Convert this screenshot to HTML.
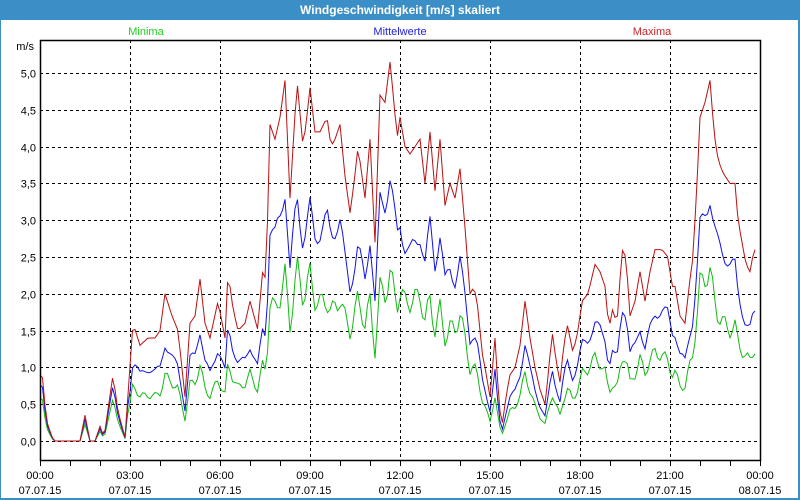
<!DOCTYPE html>
<html><head><meta charset="utf-8"><style>
body{margin:0;width:800px;height:500px;overflow:hidden;background:#3c8fc6;font-family:"Liberation Sans",sans-serif}
</style></head><body>
<svg width="800" height="500" xmlns="http://www.w3.org/2000/svg" style="position:absolute;left:0;top:0">
<rect x="0" y="0" width="800" height="500" fill="#3c8fc6"/>
<rect x="1" y="20" width="797" height="478" fill="#fff"/>
<text x="400" y="14" fill="#fff" font-size="12" font-weight="bold" text-anchor="middle" font-family="Liberation Sans, sans-serif">Windgeschwindigkeit [m/s] skaliert</text>
<g font-size="11" font-family="Liberation Sans, sans-serif" text-anchor="middle">
<text x="146" y="35" fill="#22cc22">Minima</text>
<text x="400" y="35" fill="#2222dd">Mittelwerte</text>
<text x="652" y="35" fill="#cc2222">Maxima</text>
</g>
<g id="grid" stroke="#000" stroke-width="1" stroke-dasharray="3,3"></g>
<g id="ticks" stroke="#000" stroke-width="1"></g>
<g id="lbl" font-size="11" font-family="Liberation Sans, sans-serif" fill="#000"></g>
<g id="series" fill="none" stroke-width="1"></g>
<rect x="40.5" y="40.5" width="720" height="420" fill="none" stroke="#000" stroke-width="1.5"/>
<text x="34" y="50" font-size="11" text-anchor="end" font-family="Liberation Sans, sans-serif">m/s</text>
</svg>
<script>
var NS="http://www.w3.org/2000/svg";
function el(p,t,a,txt){var e=document.createElementNS(NS,t);for(var k in a)e.setAttribute(k,a[k]);if(txt!=null)e.textContent=txt;document.getElementById(p).appendChild(e);}
function Y(v){return 441-v*73.6;}
for(var i=0;i<=10;i++){var y=Math.round(Y(i*0.5))+0.5;el("grid","line",{x1:40,x2:760,y1:y,y2:y});
el("lbl","text",{x:36,y:y+4,"text-anchor":"end"},(i*0.5).toFixed(1).replace(".",","));}
for(var h=3;h<24;h+=3){var x=40+h*30+0.5;el("grid","line",{x1:x,x2:x,y1:40,y2:460});}
for(var h=0;h<=24;h++){var x=40+h*30+0.5;el("ticks","line",{x1:x,x2:x,y1:460,y2:466});}
for(var h=0;h<=24;h+=3){var x=40+h*30;var t=(h==24?"00":("0"+h).slice(-2))+":00";
el("lbl","text",{x:x,y:479,"text-anchor":"middle"},t);el("lbl","text",{x:x,y:494,"text-anchor":"middle"},h==24?"08.07.15":"07.07.15");}
var K=[[40,.9],[43,.85],[46,.3],[52,.05],[55,0],[80,0],[85,.35],[90,0],[95,0],[100,.2],[104,.05],[113,.9],[118,.4],[125,.05],[133,1.6],[140,1.3],[148,1.4],[155,1.4],[160,1.5],[165,2.0],[172,1.7],[178,1.5],[185,.6],[190,1.6],[195,1.7],[200,2.2],[205,1.6],[210,1.4],[218,1.9],[225,1.4],[228,2.3],[233,1.8],[238,1.5],[245,1.6],[250,1.9],[258,1.5],[262,2.3],[266,2.2],[270,4.3],[275,4.1],[280,4.4],[285,4.9],[290,3.3],[297,4.9],[303,4.0],[306,4.3],[310,4.8],[315,4.2],[320,4.2],[327,4.4],[331,4.0],[335,4.1],[340,4.3],[345,3.6],[350,3.1],[354,3.5],[358,4.0],[365,3.3],[370,4.1],[375,2.7],[380,4.7],[385,4.6],[390,5.15],[394,4.6],[397,4.1],[400,4.4],[405,4.0],[410,3.9],[415,4.0],[420,4.1],[425,3.5],[430,4.2],[435,3.4],[440,4.1],[445,3.2],[450,3.5],[455,3.3],[460,3.7],[465,2.9],[470,2.0],[474,2.1],[478,1.8],[482,1.2],[485,1.0],[490,.6],[495,1.4],[499,.5],[502,.2],[506,.6],[510,.9],[515,1.0],[520,1.3],[525,1.9],[530,1.4],[535,1.0],[540,.7],[545,.5],[549,1.0],[552,1.5],[556,1.1],[560,.8],[563,1.2],[567,1.6],[573,1.2],[578,1.5],[582,1.9],[588,2.0],[595,2.4],[600,2.3],[605,2.1],[609,1.5],[612,1.8],[617,1.6],[622,2.6],[626,2.5],[630,1.7],[635,1.9],[640,2.3],[645,1.9],[650,2.3],[655,2.6],[662,2.6],[668,2.5],[672,2.1],[675,2.1],[680,1.7],[685,1.6],[690,2.2],[693,2.5],[697,3.5],[700,4.4],[705,4.6],[710,4.9],[714,4.2],[717,3.9],[721,3.7],[725,3.6],[730,3.5],[735,3.5],[738,3.0],[742,2.7],[746,2.4],[750,2.3],[754,2.6],[757,2.6]];
function v(x){for(var i=0;i<K.length-1;i++){if(x<=K[i+1][0]){var a=K[i],b=K[i+1];return a[1]+(b[1]-a[1])*(x-a[0])/(b[0]-a[0]);}}return K[K.length-1][1];}
var pm=[],pa=[],pn=[];
for(var x=40;x<=757;x+=2.5){var m=v(x);
var a=m*(0.68+0.03*Math.sin(x*0.37)+0.02*Math.sin(x*0.13+2));
var n=m*(0.46+0.035*Math.sin(x*0.53+1)+0.025*Math.sin(x*0.11));
if(x<130){a=m*0.85;n=m*0.65;}
pm.push(x+","+Y(m).toFixed(1));pa.push(x+","+Y(a).toFixed(1));pn.push(x+","+Y(n).toFixed(1));}
el("series","polyline",{points:pn.join(" "),stroke:"#11bb11"});
el("series","polyline",{points:pa.join(" "),stroke:"#1111ee"});
el("series","polyline",{points:pm.join(" "),stroke:"#bb1111"});
</script>
</body></html>
